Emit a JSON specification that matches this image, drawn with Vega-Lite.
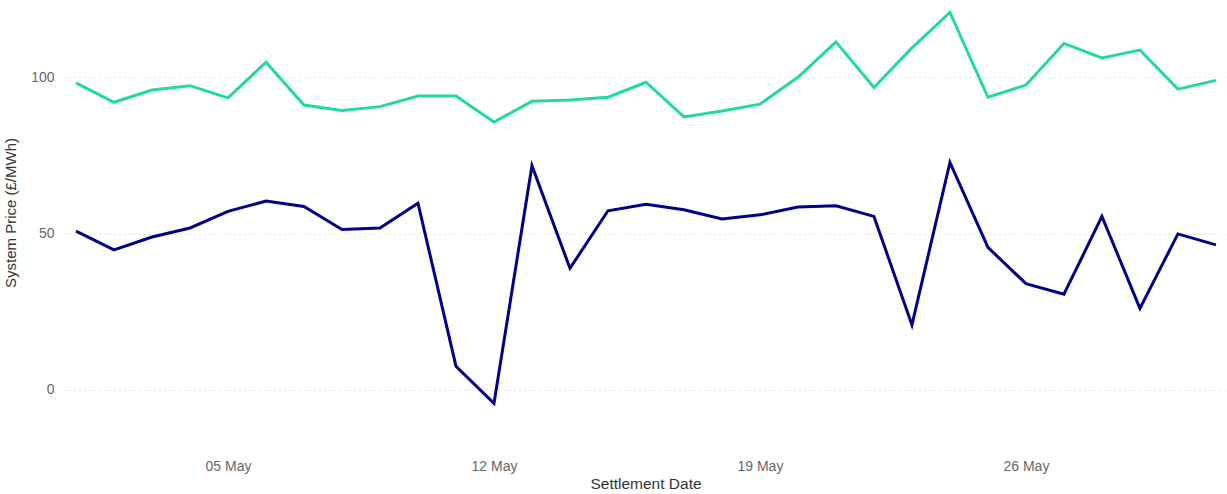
{
  "$schema": "https://vega.github.io/schema/vega-lite/v6.json",
  "autosize": {"type": "none"},
  "padding": {"left": 64, "top": 0, "right": 0, "bottom": 69},
  "width": 1163,
  "height": 425,
  "config": {
    "view": {"stroke": null},
    "font": "Liberation Sans"
  },
  "data": {
    "values": [
      {"date": "2024-05-01", "series": "High", "price": 98.2},
      {"date": "2024-05-02", "series": "High", "price": 92.0},
      {"date": "2024-05-03", "series": "High", "price": 95.9},
      {"date": "2024-05-04", "series": "High", "price": 97.3},
      {"date": "2024-05-05", "series": "High", "price": 93.4},
      {"date": "2024-05-06", "series": "High", "price": 104.8},
      {"date": "2024-05-07", "series": "High", "price": 91.1},
      {"date": "2024-05-08", "series": "High", "price": 89.4},
      {"date": "2024-05-09", "series": "High", "price": 90.6},
      {"date": "2024-05-10", "series": "High", "price": 94.0},
      {"date": "2024-05-11", "series": "High", "price": 94.0},
      {"date": "2024-05-12", "series": "High", "price": 85.7},
      {"date": "2024-05-13", "series": "High", "price": 92.3},
      {"date": "2024-05-14", "series": "High", "price": 92.7},
      {"date": "2024-05-15", "series": "High", "price": 93.6},
      {"date": "2024-05-16", "series": "High", "price": 98.4},
      {"date": "2024-05-17", "series": "High", "price": 87.3},
      {"date": "2024-05-18", "series": "High", "price": 89.2},
      {"date": "2024-05-19", "series": "High", "price": 91.4},
      {"date": "2024-05-20", "series": "High", "price": 100.0},
      {"date": "2024-05-21", "series": "High", "price": 111.3},
      {"date": "2024-05-22", "series": "High", "price": 96.7},
      {"date": "2024-05-23", "series": "High", "price": 109.4},
      {"date": "2024-05-24", "series": "High", "price": 120.7},
      {"date": "2024-05-25", "series": "High", "price": 93.6},
      {"date": "2024-05-26", "series": "High", "price": 97.5},
      {"date": "2024-05-27", "series": "High", "price": 110.8},
      {"date": "2024-05-28", "series": "High", "price": 106.2},
      {"date": "2024-05-29", "series": "High", "price": 108.7},
      {"date": "2024-05-30", "series": "High", "price": 96.2},
      {"date": "2024-05-31", "series": "High", "price": 99.0},
      {"date": "2024-05-01", "series": "Low", "price": 50.8},
      {"date": "2024-05-02", "series": "Low", "price": 44.8},
      {"date": "2024-05-03", "series": "Low", "price": 48.9},
      {"date": "2024-05-04", "series": "Low", "price": 51.8},
      {"date": "2024-05-05", "series": "Low", "price": 57.1},
      {"date": "2024-05-06", "series": "Low", "price": 60.4},
      {"date": "2024-05-07", "series": "Low", "price": 58.7},
      {"date": "2024-05-08", "series": "Low", "price": 51.3},
      {"date": "2024-05-09", "series": "Low", "price": 51.8},
      {"date": "2024-05-10", "series": "Low", "price": 59.7},
      {"date": "2024-05-11", "series": "Low", "price": 7.6},
      {"date": "2024-05-12", "series": "Low", "price": -4.3},
      {"date": "2024-05-13", "series": "Low", "price": 71.7},
      {"date": "2024-05-14", "series": "Low", "price": 38.9},
      {"date": "2024-05-15", "series": "Low", "price": 57.3},
      {"date": "2024-05-16", "series": "Low", "price": 59.4},
      {"date": "2024-05-17", "series": "Low", "price": 57.6},
      {"date": "2024-05-18", "series": "Low", "price": 54.7},
      {"date": "2024-05-19", "series": "Low", "price": 56.0},
      {"date": "2024-05-20", "series": "Low", "price": 58.5},
      {"date": "2024-05-21", "series": "Low", "price": 58.9},
      {"date": "2024-05-22", "series": "Low", "price": 55.5},
      {"date": "2024-05-23", "series": "Low", "price": 20.8},
      {"date": "2024-05-24", "series": "Low", "price": 72.8},
      {"date": "2024-05-25", "series": "Low", "price": 45.6},
      {"date": "2024-05-26", "series": "Low", "price": 34.0},
      {"date": "2024-05-27", "series": "Low", "price": 30.6},
      {"date": "2024-05-28", "series": "Low", "price": 55.5},
      {"date": "2024-05-29", "series": "Low", "price": 26.1},
      {"date": "2024-05-30", "series": "Low", "price": 49.9},
      {"date": "2024-05-31", "series": "Low", "price": 46.4}
    ]
  },
  "mark": {"type": "line", "strokeWidth": 3, "clip": false},
  "encoding": {
    "x": {
      "field": "date",
      "type": "temporal",
      "scale": {
        "domain": [
          {"year": 2024, "month": 4, "date": 30, "hours": 16, "minutes": 25},
          {"year": 2024, "month": 5, "date": 31, "hours": 7}
        ]
      },
      "axis": {
        "title": "Settlement Date",
        "values": [
          {"year": 2024, "month": 5, "date": 5},
          {"year": 2024, "month": 5, "date": 12},
          {"year": 2024, "month": 5, "date": 19},
          {"year": 2024, "month": 5, "date": 26}
        ],
        "format": "%d %b",
        "grid": false,
        "domain": false,
        "ticks": false,
        "labelPadding": 34,
        "labelFontSize": 14,
        "labelColor": "#666666",
        "labelFont": "Liberation Sans",
        "titleFont": "Liberation Sans",
        "titleFontSize": 15.5,
        "titleFontWeight": "normal",
        "titleColor": "#333333",
        "titlePadding": 3
      }
    },
    "y": {
      "field": "price",
      "type": "quantitative",
      "scale": {"domain": [-11.2, 124.7], "nice": false, "zero": false},
      "axis": {
        "title": "System Price (£/MWh)",
        "values": [0, 50, 100],
        "grid": true,
        "gridColor": "#cccccc",
        "gridDash": [1, 4],
        "gridWidth": 1,
        "domain": false,
        "ticks": false,
        "labelPadding": 10,
        "labelFontSize": 14,
        "labelColor": "#666666",
        "labelFont": "Liberation Sans",
        "titleFont": "Liberation Sans",
        "titleFontSize": 15,
        "titleFontWeight": "normal",
        "titleColor": "#333333",
        "titlePadding": 12
      }
    },
    "color": {
      "field": "series",
      "type": "nominal",
      "scale": {"domain": ["High", "Low"], "range": ["#22d8a6", "#00008b"]},
      "legend": null
    }
  }
}
